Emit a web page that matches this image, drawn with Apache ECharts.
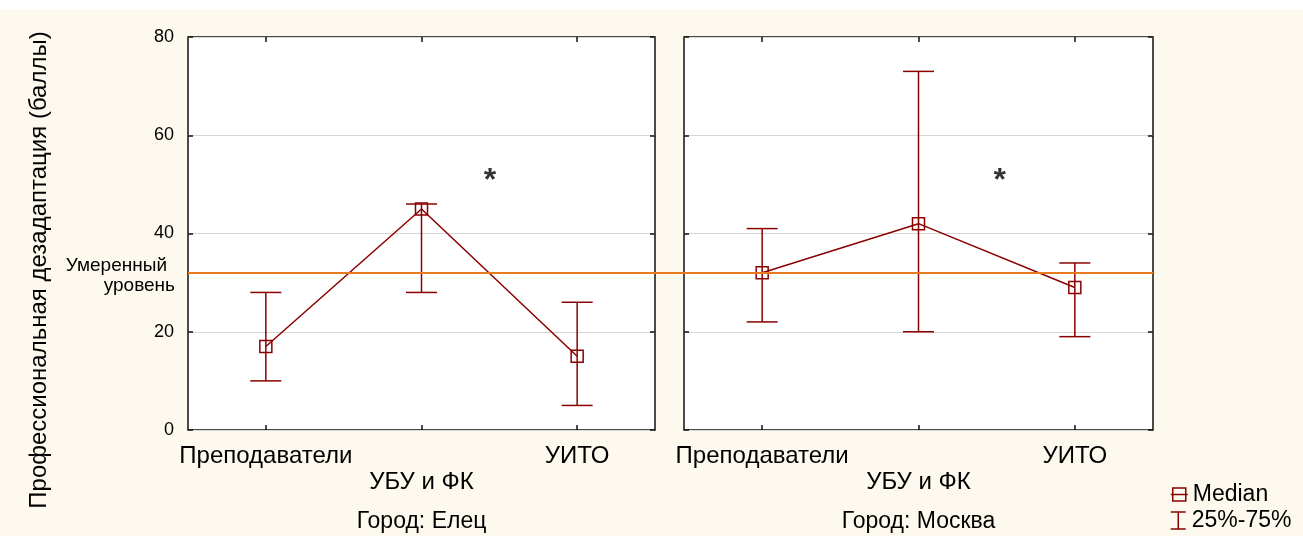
<!DOCTYPE html>
<html><head><meta charset="utf-8">
<script src="https://cdn.jsdelivr.net/npm/echarts@6/dist/echarts.min.js"></script>
<style>html,body{margin:0;padding:0;background:#fff}#c{width:1303px;height:536px}</style>
</head><body><div id="c"></div>
<script>
const categories = ['Преподаватели', 'УБУ и ФК', 'УИТО'];
const panelNames = ['Город: Елец', 'Город: Москва'];
const yTicks = [0, 20, 40, 60, 80];
const eletsMedian = [17, 45, 15];
const eletsQ1 = [10, 28, 5];
const eletsQ3 = [28, 46, 26];
const moscowMedian = [32, 42, 29];
const moscowQ1 = [22, 20, 19];
const moscowQ3 = [41, 73, 34];
const asteriskPos = [[1.44, 52], [1.52, 52]];
const refLevel = 32;
const refLabel = ['Умеренный', 'уровень'];
const yTitle = 'Профессиональная дезадаптация (баллы)';

const RED = '#8b0000';
const FONT = 'Liberation Sans, Arial, sans-serif';
const panels = [
  {median: eletsMedian, q1: eletsQ1, q3: eletsQ3, left: 188, right: 648},
  {median: moscowMedian, q1: moscowQ1, q3: moscowQ3, left: 684, right: 150}
];
const tickStyle = {color: '#111', width: 1.5};

const grid = [], xAxis = [], yAxis = [], series = [];
panels.forEach((p, g) => {
  grid.push({left: p.left, right: p.right, top: 37, bottom: 106, show: true,
    containLabel: false, outerBoundsMode: 'none',
    backgroundColor: '#fff', borderColor: '#111', borderWidth: 1.5});
  xAxis.push({type: 'category', gridIndex: g, data: categories, position: 'bottom',
    boundaryGap: true, name: panelNames[g], nameLocation: 'middle', nameGap: 80,
    nameTextStyle: {fontSize: 23, fontFamily: FONT, color: '#000'},
    axisLine: {show: false, onZero: false},
    axisTick: {show: true, inside: true, alignWithLabel: true, interval: 0, length: 5, lineStyle: tickStyle},
    axisLabel: {fontSize: 24, fontFamily: FONT, color: '#000', margin: 13, lineHeight: 26,
      interval: 0, formatter: (v, i) => (i % 2 ? '\n' + v : v)}});
  xAxis.push({type: 'category', gridIndex: g, data: categories, position: 'top',
    boundaryGap: true, axisLine: {show: false, onZero: false},
    axisTick: {show: true, inside: true, alignWithLabel: true, interval: 0, length: 5, lineStyle: tickStyle},
    axisLabel: {show: false}});
  xAxis.push({type: 'value', gridIndex: g, min: -0.5, max: 2.5, show: false});
  yAxis.push({type: 'value', gridIndex: g, min: 0, max: 80, interval: 20, position: 'left',
    axisLine: {show: false, onZero: false},
    axisTick: {show: true, inside: true, length: 5, lineStyle: tickStyle},
    axisLabel: {show: g === 0, fontSize: 18, fontFamily: FONT, color: '#000', margin: 14,
      formatter: v => (yTicks.indexOf(v) >= 0 ? String(v) : '')},
    splitLine: {show: true, lineStyle: {color: '#d6d6d6', width: 1}}});
  yAxis.push({type: 'value', gridIndex: g, min: 0, max: 80, interval: 20, position: 'right',
    axisLine: {show: false, onZero: false},
    axisTick: {show: true, inside: true, length: 5, lineStyle: tickStyle},
    axisLabel: {show: false}, splitLine: {show: false}});

  series.push({
    name: '25%-75%', type: 'custom', xAxisIndex: g * 3, yAxisIndex: g * 2, z: 3,
    itemStyle: {color: RED},
    data: categories.map((c, i) => [i, p.q1[i], p.q3[i]]),
    encode: {x: 0, y: [1, 2]},
    renderItem: (params, api) => {
      const lo = api.coord([api.value(0), api.value(1)]);
      const hi = api.coord([api.value(0), api.value(2)]);
      const w = 15.5;
      const st = {stroke: RED, lineWidth: 1.5, fill: 'none'};
      return {type: 'group', children: [
        {type: 'line', shape: {x1: lo[0], y1: lo[1], x2: hi[0], y2: hi[1]}, style: st},
        {type: 'line', shape: {x1: lo[0] - w, y1: lo[1], x2: lo[0] + w, y2: lo[1]}, style: st},
        {type: 'line', shape: {x1: hi[0] - w, y1: hi[1], x2: hi[0] + w, y2: hi[1]}, style: st}
      ]};
    }
  });
  series.push({
    name: 'Median', type: 'line', xAxisIndex: g * 3, yAxisIndex: g * 2, z: 4,
    data: p.median, symbol: 'rect', symbolSize: 12,
    lineStyle: {color: RED, width: 1.5},
    itemStyle: {color: 'rgba(0,0,0,0)', borderColor: RED, borderWidth: 1.5},
    emphasis: {disabled: true}
  });
  series.push({
    type: 'scatter', xAxisIndex: g * 3 + 2, yAxisIndex: g * 2, z: 5,
    data: [asteriskPos[g]], symbol: 'circle', symbolSize: 1, silent: true,
    itemStyle: {color: 'rgba(0,0,0,0)'},
    label: {show: true, formatter: '*', position: 'inside', offset: [0, 7],
      fontSize: 32, fontWeight: 'bold', fontFamily: FONT, color: '#000'}
  });
});

grid.push({left: 188, right: 150, top: 37, bottom: 106, show: false,
  containLabel: false, outerBoundsMode: 'none'});
xAxis.push({type: 'value', gridIndex: 2, min: 0, max: 1, show: false});
yAxis.push({type: 'value', gridIndex: 2, min: 0, max: 80, show: false});
series.push({
  type: 'line', xAxisIndex: 6, yAxisIndex: 4, data: [], symbol: 'none', silent: true, z: 2,
  markLine: {silent: true, symbol: 'none',
    lineStyle: {color: '#ea7a1e', width: 2, type: 'solid'},
    label: {show: true, position: 'start', distance: 13,
      formatter: '{a|' + refLabel[0] + '}\n{b|' + refLabel[1] + '}',
      padding: [6, 0, 0, 0], align: 'right',
      rich: {
        a: {fontSize: 19, lineHeight: 20, fontFamily: FONT, color: '#000', padding: [0, 8, 0, 0]},
        b: {fontSize: 19, lineHeight: 20, fontFamily: FONT, color: '#000'}
      }},
    data: [{yAxis: refLevel}]}
});

const legendBase = {orient: 'vertical', left: 1165, itemWidth: 17, itemHeight: 17,
  itemTextGap: 9, selectedMode: false,
  textStyle: {fontSize: 23, fontFamily: FONT, color: '#000'}};

const chart = echarts.init(document.getElementById('c'));
chart.setOption({
  backgroundColor: '#fef9ee',
  animation: false,
  grid, xAxis, yAxis, series,
  legend: [
    Object.assign({}, legendBase, {top: 478, data: [
      {name: 'Median', icon: 'path://M2,2H15V15H2Z M0,8.5H17',
        itemStyle: {color: 'rgba(0,0,0,0)', borderColor: RED, borderWidth: 1.5}}]}),
    Object.assign({}, legendBase, {top: 504, data: [
      {name: '25%-75%', icon: 'path://M1,0H16 M8.5,0V17 M1,17H16',
        itemStyle: {color: 'rgba(0,0,0,0)', borderColor: RED, borderWidth: 1.5}}]})
  ],
  graphic: [
    {type: 'rect', left: 0, top: 0, shape: {width: 1303, height: 9}, style: {fill: '#fff'}, silent: true},
    {type: 'text', x: 39, y: 270, rotation: Math.PI / 2, silent: true,
      style: {text: yTitle, fontSize: 24, fontFamily: FONT, fill: '#000',
        textAlign: 'center', textVerticalAlign: 'middle'}}
  ]
});
</script></body></html>
